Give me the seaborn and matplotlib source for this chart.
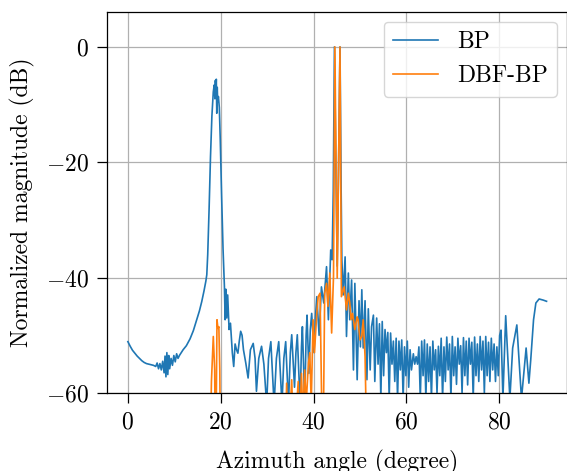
import numpy as np
import pandas as pd
import matplotlib
matplotlib.use('Agg')
import matplotlib.pyplot as plt
import seaborn as sns

plt.rcParams['font.family'] = 'serif'
plt.rcParams['font.serif'] = ['cmr10', 'DejaVu Serif']
plt.rcParams['mathtext.fontset'] = 'cm'
plt.rcParams['axes.formatter.use_mathtext'] = True
plt.rcParams['axes.unicode_minus'] = True

# BP curve (angle in degree, magnitude in dB)
bp_angle = [
    0.0, 0.5, 1.0, 1.5, 2.0, 2.5, 3.0, 3.5, 4.0, 4.5, 5.0, 5.5, 6.0, 6.3, 6.6, 6.9,
    7.2, 7.5, 7.8, 8.0, 8.2, 8.4, 8.6, 8.8, 9.0, 9.3, 9.6, 9.9, 10.2, 10.5, 10.8, 11.1,
    11.9, 12.6, 13.4, 14.1, 14.8, 15.4, 15.9, 16.4, 16.8, 17.0, 17.2, 17.5, 17.8, 18.1,
    18.4, 18.6, 18.75, 18.85, 18.95, 19.05, 19.15, 19.25, 19.35, 19.5, 19.7, 19.9, 20.2,
    20.5, 20.8, 20.95, 21.1, 21.3, 21.5, 21.8, 22.1, 22.5, 22.8, 23.1, 23.4, 23.7, 24.0,
    24.3, 24.6, 24.9, 25.4, 25.9, 26.4, 27.0, 27.4, 27.7, 28.2, 28.8, 29.3, 29.9, 30.3,
    30.8, 31.5, 32.0, 32.5, 33.2, 33.6, 34.0, 34.6, 35.0, 35.3, 35.9, 36.2, 36.5, 37.1,
    37.4, 37.6, 38.1, 38.4, 38.6, 39.0, 39.3, 39.6, 40.1, 40.4, 40.7, 41.2, 41.7, 42.2,
    42.8, 43.2, 43.7, 44.0, 44.25, 44.5, 44.8, 45.1, 45.4, 45.7, 45.95, 46.1, 46.4, 46.8,
    47.1, 47.5, 47.8, 48.2, 48.6, 48.9, 49.4, 49.8, 50.1, 50.4, 50.7, 51.1, 51.5, 51.8,
    52.2, 52.5, 52.9, 53.2, 53.6, 53.9, 54.2, 54.5, 54.8, 55.1, 55.4, 55.7, 56.0, 56.3,
    56.6, 56.9, 57.2, 57.5, 57.8, 58.1, 58.4, 58.7, 59.0, 59.3, 59.6, 59.9, 60.2, 60.5,
    60.8, 61.1, 61.5, 61.8, 62.1, 62.4, 62.7, 63.0, 63.3, 63.6, 63.9, 64.2, 64.5, 64.8,
    65.1, 65.4, 65.7, 66.0, 66.3, 66.6, 66.9, 67.2, 67.5, 67.8, 68.1, 68.4, 68.7, 69.0,
    69.3, 69.6, 69.9, 70.2, 70.5, 70.8, 71.1, 71.4, 71.7, 72.0, 72.3, 72.6, 72.9, 73.2,
    73.5, 73.8, 74.1, 74.4, 74.7, 75.0, 75.3, 75.6, 75.9, 76.2, 76.5, 76.8, 77.1, 77.4,
    77.7, 78.0, 78.3, 78.6, 78.9, 79.2, 79.5, 79.8, 80.1, 80.4, 80.8, 81.4, 82.3, 82.9,
    83.8, 84.8, 85.8, 86.4, 86.8, 87.4, 87.9, 88.6, 89.5, 90.2,
]
bp_db = [
    -51.1, -51.9, -52.6, -53.1, -53.6, -54.0, -54.4, -54.7, -54.9, -55.0, -55.1, -55.2, -55.4, -54.8, -55.8, -54.9,
    -56.0, -54.5, -56.5, -53.6, -57.2, -53.0, -56.8, -53.5, -55.8, -54.0, -55.2, -53.5, -54.6, -53.2, -54.0, -53.5,
    -52.5, -51.8, -50.6, -49.2, -47.4, -45.8, -44.2, -42.3, -40.6, -39.5, -36.0, -28.0, -19.0, -12.0,
    -7.8, -6.6, -9.0, -5.8, -7.5, -5.6, -11.5, -7.0, -9.5, -8.6, -10.5, -16.0, -26.0,
    -35.0, -41.6, -47.3, -42.0, -47.0, -43.0, -49.0, -47.9, -53.0, -55.4, -51.5, -52.5, -53.1, -51.0,
    -49.3, -50.0, -52.5, -54.8, -57.4, -52.5, -51.4, -54.0, -59.7, -54.0, -51.9, -55.0, -62.0, -54.0,
    -51.1, -62.0, -54.0, -51.1, -62.0, -54.0, -51.1, -62.0, -53.0, -49.9, -59.0, -53.0, -49.9, -62.0,
    -52.0, -48.5, -62.0, -50.0, -46.5, -56.6, -49.0, -46.2, -53.0, -47.0, -43.3, -50.0, -41.6, -44.4,
    -38.1, -47.3, -35.2, -36.9, -25.0, 0.0, -20.0, -38.0, -20.0, 0.0, -25.0, -36.9, -43.0, -36.4,
    -50.2, -39.2, -47.3, -40.4, -56.0, -41.0, -57.7, -44.0, -52.0, -42.1, -52.2, -44.0, -57.7, -45.4,
    -56.0, -48.5, -46.5, -58.0, -47.0, -55.0, -48.0, -61.0, -47.6, -57.0, -49.0, -53.0, -49.5, -61.0,
    -49.6, -55.0, -51.0, -58.0, -50.5, -61.0, -51.0, -56.0, -50.8, -61.0, -52.0, -57.0, -51.0, -59.0,
    -52.5, -56.0, -53.2, -55.0, -53.7, -55.0, -52.0, -61.0, -51.0, -57.0, -50.8, -61.0, -51.5, -58.0,
    -52.0, -61.0, -51.0, -56.0, -52.5, -60.0, -51.9, -57.0, -50.5, -61.0, -52.0, -58.0, -50.3, -56.0,
    -51.5, -61.0, -50.2, -57.0, -52.0, -58.5, -50.5, -55.0, -51.8, -60.0, -50.4, -57.0, -51.0, -58.6,
    -50.5, -55.0, -51.2, -61.0, -50.3, -57.0, -51.5, -58.0, -50.2, -56.0, -51.0, -60.0, -50.2, -57.0,
    -51.2, -58.0, -50.5, -56.0, -51.5, -58.0, -52.0, -57.0, -50.0, -49.1, -61.0, -46.6, -61.0, -52.2,
    -48.2, -61.0, -52.2, -58.3, -54.2, -47.3, -44.4, -43.7, -43.9, -44.1,
]

# DBF-BP curve
dbf_angle = [
    0.0, 17.6, 18.0, 18.4, 18.7, 18.9, 19.2, 19.4, 19.6, 19.8, 20.0, 25.0, 33.8, 34.2,
    34.5, 35.3, 35.7, 36.7, 37.0, 37.4, 37.7, 38.1, 38.4, 38.9, 39.2, 39.5, 39.9, 40.2,
    40.7, 41.0, 41.4, 42.0, 42.4, 42.8, 43.1, 43.5, 43.9, 44.3, 44.6, 45.1, 45.7, 46.0,
    46.6, 47.1, 47.5, 47.8, 48.1, 48.4, 48.9, 49.4, 49.6, 50.0, 50.4, 50.7, 51.1, 51.6,
    60.0, 90.0,
]
dbf_db = [
    -95.0, -75.0, -58.0, -50.2, -56.0, -75.0, -47.3, -48.8, -48.5, -56.0, -75.0, -90.0, -75.0, -58.3,
    -70.0, -57.7, -70.0, -58.0, -66.0, -56.6, -64.0, -56.0, -62.0, -54.8, -53.0, -62.0, -47.3, -53.0,
    -46.2, -43.3, -42.7, -75.0, -42.7, -41.0, -45.0, -39.2, -49.6, -39.8, 0.0, -40.1, 0.0, -43.3,
    -41.6, -45.6, -42.7, -44.4, -47.3, -46.2, -49.0, -46.8, -47.3, -50.8, -50.2, -47.3, -53.7, -75.0,
    -95.0, -100.0,
]

bp = pd.DataFrame({'angle': bp_angle, 'db': bp_db})
dbf = pd.DataFrame({'angle': dbf_angle, 'db': dbf_db})

fig = plt.figure(figsize=(5.67, 4.71), dpi=100)
ax = fig.add_axes([107 / 567, 78 / 471, 459.5 / 567, 380.7 / 471])

sns.lineplot(data=bp, x='angle', y='db', ax=ax, label='BP', color='#1f77b4',
             linewidth=1.2, estimator=None, sort=False)
sns.lineplot(data=dbf, x='angle', y='db', ax=ax, label='DBF-BP', color='#ff7f0e',
             linewidth=1.2, estimator=None, sort=False)

ax.set_xlim(-4.5, 94.5)
ax.set_ylim(-60, 6)
ax.set_xticks([0, 20, 40, 60, 80])
ax.set_yticks([0, -20, -40, -60])
ax.grid(True, color='#b0b0b0', linewidth=0.9)
ax.tick_params(labelsize=17, length=7, width=0.9, pad=6)
for s in ax.spines.values():
    s.set_linewidth(0.9)
ax.set_xlabel('Azimuth angle (degree)', fontsize=17, labelpad=12)
ax.set_ylabel('Normalized magnitude (dB)', fontsize=17, labelpad=8)
ax.legend(loc='upper right', fontsize=17, handlelength=1.9, borderaxespad=0.4)

fig.savefig('out.png', dpi=100)
